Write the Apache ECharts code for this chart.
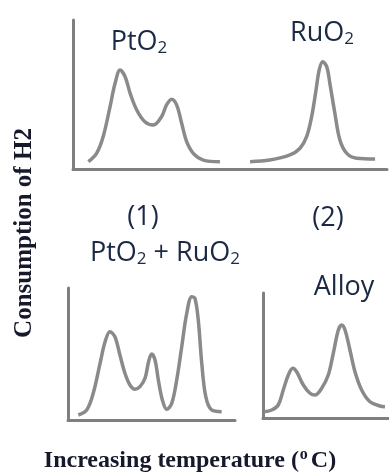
<!DOCTYPE html>
<html>
<head>
<meta charset="utf-8">
<script src="https://cdn.jsdelivr.net/npm/echarts@6/dist/echarts.min.js"></script>
<style>
  html, body { margin: 0; padding: 0; background: #ffffff; }
  #chart { width: 389px; height: 474px; }
</style>
</head>
<body>
<div id="chart"></div>
<script>
// H2-TPR profiles: temperature (arbitrary units, 0-100) vs H2 consumption (arbitrary units, 0-100)
const ptO2Profile = [
  [4.9, 4.9], [7.5, 10.5], [9.6, 21.7], [11.8, 41.8], [13.4, 57.5], [15.0, 66.4],
  [16.6, 61.9], [18.2, 50.8], [20.3, 39.6], [22.9, 31.7], [25.6, 29.5], [28.2, 35.1],
  [29.8, 43.0], [31.4, 46.8], [33.0, 43.0], [34.6, 30.7], [36.2, 18.3], [38.3, 10.5],
  [41.5, 6.0], [46.8, 4.9]
];
const ruO2Profile = [
  [56.4, 4.9], [62.7, 6.0], [69.1, 9.4], [72.3, 13.9], [74.4, 21.7], [76.0, 35.1],
  [77.4, 53.0], [78.4, 66.4], [79.5, 72.0], [80.8, 68.7], [81.8, 57.5], [83.4, 37.4],
  [85.0, 19.5], [87.2, 10.5], [90.4, 7.2], [96.2, 6.7]
];
const mixedProfile = [
  [6.2, 3.8], [11.2, 7.6], [15.1, 20.2], [19.2, 42.9], [22.2, 59.3], [25.1, 66.9],
  [28.1, 63.1], [31.1, 49.2], [34.1, 35.4], [37.1, 26.5], [40.1, 23.3], [43.1, 25.3],
  [46.1, 31.6], [48.5, 45.5], [50.1, 50.0], [52.1, 45.5], [54.1, 30.3], [56.5, 15.2],
  [59.1, 8.1], [62.1, 12.6], [65.1, 30.3], [68.1, 55.5], [71.1, 80.8], [74.1, 93.4],
  [76.0, 92.2], [78.0, 75.8], [80.1, 42.9], [82.5, 17.7], [86.0, 7.6], [92.0, 6.3]
];
const alloyProfile = [
  [0.5, 5.0], [6.9, 6.4], [12.1, 10.4], [16.1, 22.4], [20.1, 34.4], [23.6, 39.8],
  [26.7, 37.0], [32.0, 26.4], [37.3, 19.8], [41.3, 18.4], [46.6, 23.8], [51.8, 34.4],
  [55.8, 51.8], [59.8, 70.4], [62.5, 74.4], [65.1, 70.4], [69.0, 54.4], [73.0, 37.0],
  [78.3, 22.4], [84.9, 13.0], [92.9, 9.6], [96.8, 9.0]
];

const xTitle = 'Increasing temperature (';
const xTitleUnit = 'C)';
const yTitle = 'Consumption of H2';

const AXIS_COLOR = '#7f7f7f';
const CURVE_COLOR = '#8a8a8a';
const LABEL_COLOR = '#1b2944';
const LABEL_FONT = '"Open Sans", sans-serif';
const TITLE_FONT = '"Liberation Serif", serif';

const chart = echarts.init(document.getElementById('chart'), null, { renderer: 'canvas' });

function axisPair(gridIndex) {
  const common = {
    gridIndex: gridIndex,
    type: 'value',
    min: 0,
    max: 100,
    axisTick: { show: false },
    axisLabel: { show: false },
    splitLine: { show: false },
    axisLine: { show: true, lineStyle: { color: AXIS_COLOR, width: 3 } }
  };
  return { x: Object.assign({}, common), y: Object.assign({}, common) };
}

const axesTop = axisPair(0);
const axesMixed = axisPair(1);
const axesAlloy = axisPair(2);

function curve(data, idx) {
  return {
    type: 'line',
    xAxisIndex: idx,
    yAxisIndex: idx,
    data: data,
    smooth: 0.35,
    showSymbol: false,
    silent: true,
    lineStyle: { color: CURVE_COLOR, width: 3.5 }
  };
}

const labelRich = {
  m: { fontFamily: LABEL_FONT, fontSize: 27, fontWeight: 500, lineHeight: 31, fill: LABEL_COLOR, verticalAlign: 'middle' },
  s: { fontFamily: LABEL_FONT, fontSize: 17, fontWeight: 500, lineHeight: 17, fill: LABEL_COLOR, verticalAlign: 'middle', padding: [12, 0, 0, 0] }
};

function label(text, x, y) {
  return {
    type: 'text',
    x: x,
    y: y,
    silent: true,
    style: {
      text: text,
      rich: labelRich,
      align: 'center',
      verticalAlign: 'middle'
    }
  };
}

chart.setOption({
  animation: false,
  backgroundColor: '#ffffff',
  grid: [
    { left: 73, top: 20, width: 314, height: 149 },
    { left: 68, top: 288, width: 167, height: 132 },
    { left: 263, top: 293, width: 126, height: 125 }
  ],
  xAxis: [axesTop.x, axesMixed.x, axesAlloy.x],
  yAxis: [axesTop.y, axesMixed.y, axesAlloy.y],
  series: [
    curve(ptO2Profile, 0),
    curve(ruO2Profile, 0),
    curve(mixedProfile, 1),
    curve(alloyProfile, 2)
  ],
  graphic: [
    label('{m|PtO}{s|2}', 139, 42),
    label('{m|RuO}{s|2}', 322, 33),
    label('{m|(1)}', 143, 217),
    label('{m|(2)}', 328, 218),
    label('{m|PtO}{s|2}{m| + RuO}{s|2}', 165, 253),
    label('{m|Alloy}', 344, 287),
    {
      type: 'text',
      x: 25,
      y: 233,
      rotation: Math.PI / 2,
      silent: true,
      style: {
        text: yTitle,
        fontFamily: TITLE_FONT,
        fontWeight: 'bold',
        fontSize: 25,
        fill: '#15192a',
        align: 'center',
        verticalAlign: 'middle'
      }
    },
    {
      type: 'text',
      x: 190,
      y: 461,
      silent: true,
      style: {
        text: '{t|' + xTitle + '}{p|o}{t|' + xTitleUnit + '}',
        align: 'center',
        verticalAlign: 'middle',
        rich: {
          t: { fontFamily: TITLE_FONT, fontWeight: 'bold', fontSize: 24, lineHeight: 28, fill: '#15192a', verticalAlign: 'middle' },
          p: { fontFamily: TITLE_FONT, fontWeight: 'bold', fontSize: 16, lineHeight: 16, fill: '#15192a', verticalAlign: 'middle', padding: [0, 3, 12, 1] }
        }
      }
    }
  ]
});
</script>
</body>
</html>
